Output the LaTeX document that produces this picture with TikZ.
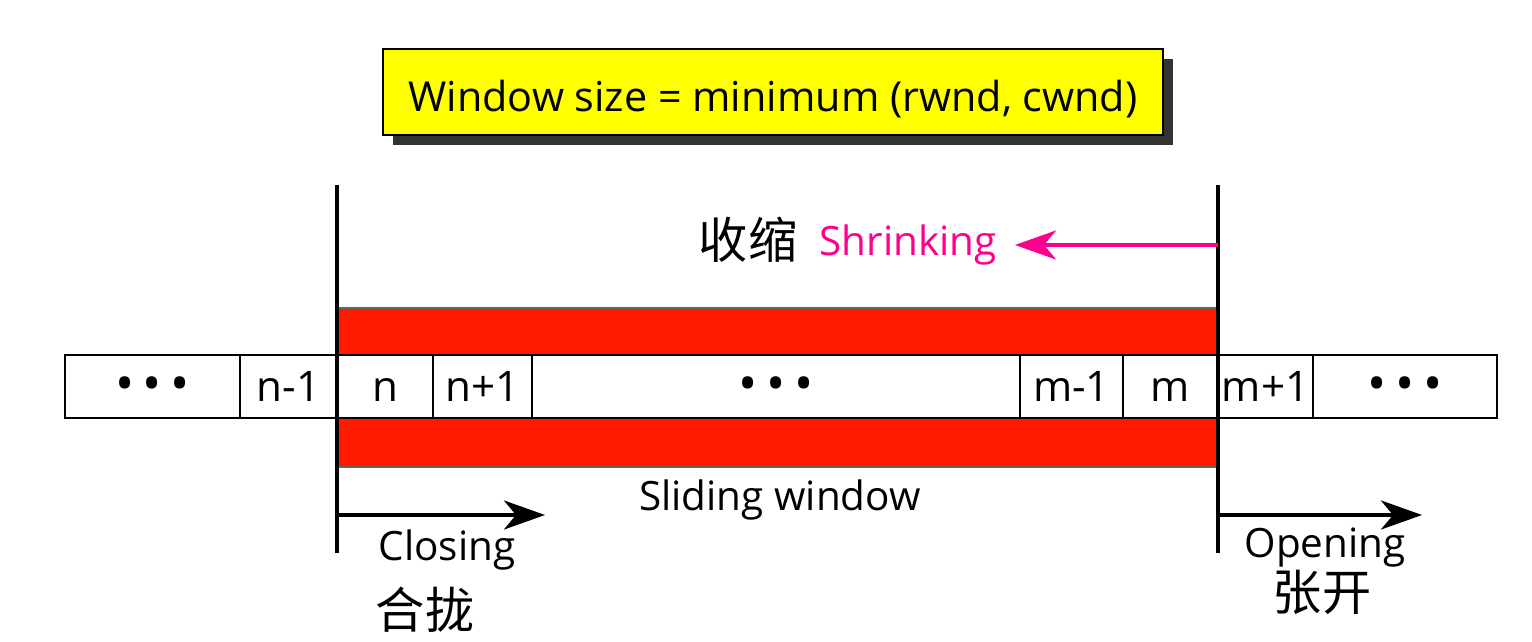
\documentclass[tikz,border=0pt]{standalone}
\usepackage{fontspec}
\setmainfont{Open Sans}
\newfontfamily\cjk{Noto Sans CJK SC}
\usetikzlibrary{arrows.meta}
\definecolor{winred}{RGB}{255,26,0}
\definecolor{shrinkpink}{RGB}{255,0,140}
\definecolor{titleyellow}{RGB}{255,255,0}
\newcommand{\celldots}{{\fontsize{29}{29}\selectfont\textbullet\,\textbullet\,\textbullet}}

\begin{document}
\begin{tikzpicture}[
  cell/.style={draw,line width=1.1pt,minimum height=1.26cm,inner sep=0,text height=0.6cm,text depth=0cm,
    font=\fontsize{24}{24}\selectfont},
  band/.style={draw=black!60,line width=0.6pt,fill=winred,inner sep=0},
  edge/.style={line width=2.3pt},
  arr/.style={-{Stealth[length=0.82cm,width=0.58cm,inset=0.24cm]},line width=2.3pt},
  lbl/.style={font=\fontsize{23}{23}\selectfont},
  zh/.style={font=\cjk\fontsize{28}{28}\selectfont}]
\useasboundingbox (0,0) rectangle (30.64,12.84);

% ---- title box with shadow
\fill[black!80] (7.86,9.94) rectangle (23.46,11.66);
\node[draw,line width=1.4pt,fill=titleyellow,minimum width=15.6cm,minimum height=1.72cm,inner sep=0,
  text height=0.8cm,text depth=0cm,font=\fontsize{23.5}{23.5}\selectfont] (title) at (15.46,11.0)
  {Window size = minimum (rwnd, cwnd)};

% ---- red bands of the window
\node[band,minimum width=17.62cm,minimum height=0.94cm] (bandtop) at (15.55,6.21) {};
\node[band,minimum width=17.62cm,minimum height=0.98cm] (bandbot) at (15.55,3.99) {};

% ---- the byte cells
\node[cell,minimum width=3.50cm] (c1) at (3.05,5.11)  {\celldots};
\node[cell,minimum width=1.94cm] (c2) at (5.77,5.11)  {n-1};
\node[cell,minimum width=1.92cm] (c3) at (7.70,5.11)  {n};
\node[cell,minimum width=1.98cm] (c4) at (9.65,5.11)  {n+1};
\node[cell,minimum width=9.76cm] (c5) at (15.52,5.11) {\celldots};
\node[cell,minimum width=2.06cm] (c6) at (21.43,5.11) {m-1};
\node[cell,minimum width=1.90cm] (c7) at (23.41,5.11) {m};
\node[cell,minimum width=1.90cm] (c8) at (25.31,5.11) {m+1};
\node[cell,minimum width=3.68cm] (c9) at (28.10,5.11) {\celldots};

% ---- window edges
\coordinate (ltop) at (6.74,9.14);
\coordinate (lbot) at (6.74,1.78);
\coordinate (rtop) at (24.36,9.14);
\coordinate (rbot) at (24.36,1.78);
\draw[edge] (ltop)--(lbot);
\draw[edge] (rtop)--(rbot);

% ---- shrinking
\coordinate (shs) at (24.36,7.94);
\coordinate (she) at (20.30,7.94);
\draw[arr,draw=shrinkpink,fill=shrinkpink] (shs)--(she);
\node[lbl,text=shrinkpink] (shrink) at (18.16,7.94) {Shrinking};
\node[zh] (shrinkzh) at (14.96,8.04) {收缩};

% ---- closing and opening
\coordinate (cls) at (6.74,2.54);
\coordinate (cle) at (10.90,2.54);
\coordinate (ops) at (24.36,2.54);
\coordinate (ope) at (28.44,2.54);
\draw[arr] (cls)--(cle);
\draw[arr] (ops)--(ope);
\node[lbl] (slide) at (15.60,2.84) {Sliding window};
\node[lbl] (close) at (8.94,1.84) {Closing};
\node[zh] (closezh) at (8.50,0.64) {合拢};
\node[lbl] (open) at (26.50,1.88) {Opening};
\node[zh] (openzh) at (26.44,1.00) {张开};
\end{tikzpicture}
\end{document}
